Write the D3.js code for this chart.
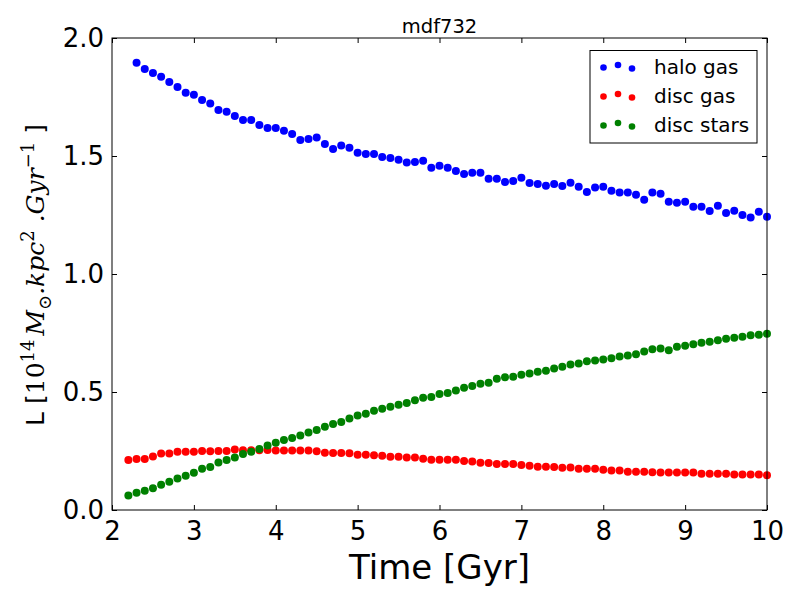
<!DOCTYPE html>
<html>
<head>
<meta charset="utf-8">
<script src="https://cdn.jsdelivr.net/npm/d3@7"></script>
<style>
  body { margin: 0; background: #fff; }
  text { font-family: "DejaVu Sans", sans-serif; }
</style>
</head>
<body>
<svg id="chart" width="800" height="600"></svg>
<script>
// time grid (Gyr)
const timesDisc = [2.2,2.3,2.4,2.5,2.6,2.7,2.8,2.9,3.0,3.1,3.2,3.3,3.4,3.5,3.6,3.7,3.8,3.9,4.0,4.1,4.2,4.3,4.4,4.5,4.6,
  4.7,4.8,4.9,5.0,5.1,5.2,5.3,5.4,5.5,5.6,5.7,5.8,5.9,6.0,6.1,6.2,6.3,6.4,6.5,6.6,6.7,6.8,6.9,7.0,7.1,7.2,7.3,7.4,
  7.5,7.6,7.7,7.8,7.9,8.0,8.1,8.2,8.3,8.4,8.5,8.6,8.7,8.8,8.9,9.0,9.1,9.2,9.3,9.4,9.5,9.6,9.7,9.8,9.9,10.0];
const timesHalo = timesDisc.slice(1);

const haloGas = [1.895,1.869,1.852,1.836,1.814,1.792,1.768,1.760,1.737,1.722,1.695,1.688,1.669,1.653,1.653,1.631,1.619,1.619,1.607,1.593,1.568,1.572,1.578,1.551,1.530,1.544,
  1.535,1.514,1.508,1.508,1.496,1.492,1.484,1.472,1.475,1.480,1.450,1.459,1.450,1.436,1.424,1.429,1.429,1.404,1.404,1.390,1.394,1.408,1.386,1.381,1.374,1.381,1.373,1.387,
  1.370,1.347,1.366,1.370,1.353,1.345,1.345,1.336,1.315,1.345,1.340,1.306,1.302,1.306,1.285,1.285,1.267,1.289,1.258,1.268,1.250,1.239,1.264,1.243];
const discGas = [0.212,0.216,0.216,0.227,0.239,0.239,0.247,0.247,0.247,0.250,0.249,0.250,0.250,0.256,0.253,0.253,0.253,0.254,0.252,0.252,0.252,0.252,0.252,0.249,0.243,
  0.242,0.241,0.240,0.234,0.234,0.232,0.230,0.226,0.226,0.222,0.222,0.217,0.213,0.213,0.213,0.213,0.208,0.205,0.200,0.199,0.195,0.195,0.195,0.191,0.188,0.183,0.183,0.182,
  0.179,0.180,0.175,0.175,0.175,0.171,0.167,0.167,0.162,0.162,0.162,0.160,0.159,0.159,0.159,0.159,0.159,0.154,0.154,0.154,0.154,0.150,0.150,0.150,0.150,0.147];
const discStars = [0.061,0.073,0.082,0.092,0.107,0.120,0.133,0.145,0.158,0.175,0.182,0.201,0.212,0.222,0.237,0.247,0.258,0.273,0.285,0.297,0.305,0.316,0.328,0.339,0.353,
  0.364,0.373,0.388,0.400,0.408,0.421,0.429,0.438,0.446,0.453,0.465,0.476,0.479,0.492,0.496,0.506,0.518,0.525,0.535,0.539,0.556,0.562,0.565,0.573,0.578,0.586,0.590,0.600,
  0.607,0.616,0.621,0.630,0.634,0.638,0.643,0.650,0.655,0.660,0.672,0.681,0.684,0.677,0.692,0.696,0.702,0.709,0.713,0.719,0.726,0.730,0.734,0.740,0.743,0.747];

const xTicks = [2,3,4,5,6,7,8,9,10];
const yTicks = [0.0,0.5,1.0,1.5,2.0];

const seriesNames = ["halo gas", "disc gas", "disc stars"];
const seriesColors = ["#0000ff", "#ff0000", "#008000"];

const svg = d3.select("#chart");
const plotL = 112, plotR = 767, plotT = 38, plotB = 510;

const x = d3.scaleLinear().domain([2, 10]).range([plotL, plotR]);
const y = d3.scaleLinear().domain([0, 2]).range([plotB, plotT]);

// title
svg.append("text")
  .attr("x", (plotL + plotR) / 2).attr("y", 33)
  .attr("text-anchor", "middle")
  .attr("font-size", "19.5px")
  .text("mdf732");

// points
const series = [
  { t: timesHalo, v: haloGas },
  { t: timesDisc, v: discGas },
  { t: timesDisc, v: discStars }
];
series.forEach((s, i) => {
  svg.append("g").selectAll("circle")
    .data(s.v)
    .join("circle")
    .attr("cx", (d, j) => x(s.t[j]))
    .attr("cy", d => y(d))
    .attr("r", 4)
    .attr("fill", seriesColors[i]);
});

// axes, ticks inward on all sides
const tickLen = 5;
svg.append("g").attr("transform", `translate(0,${plotB})`)
  .call(d3.axisBottom(x).tickValues(xTicks).tickSize(-tickLen).tickPadding(12).tickFormat(d3.format("d")))
  .call(g => g.select(".domain").remove())
  .call(g => g.selectAll("text").attr("font-size", "26px").attr("font-family", "DejaVu Sans").attr("fill", "#000"));
svg.append("g").attr("transform", `translate(0,${plotT})`)
  .call(d3.axisTop(x).tickValues(xTicks).tickSize(-tickLen).tickFormat(""))
  .call(g => g.select(".domain").remove());
svg.append("g").attr("transform", `translate(${plotL},0)`)
  .call(d3.axisLeft(y).tickValues(yTicks).tickSize(-tickLen).tickPadding(8).tickFormat(d3.format(".1f")))
  .call(g => g.select(".domain").remove())
  .call(g => g.selectAll("text").attr("font-size", "26px").attr("font-family", "DejaVu Sans").attr("fill", "#000"));
svg.append("g").attr("transform", `translate(${plotR},0)`)
  .call(d3.axisRight(y).tickValues(yTicks).tickSize(-tickLen).tickFormat(""))
  .call(g => g.select(".domain").remove());

svg.append("rect")
  .attr("x", plotL).attr("y", plotT)
  .attr("width", plotR - plotL).attr("height", plotB - plotT)
  .attr("fill", "none").attr("stroke", "#000").attr("stroke-width", 1);

// axis labels
svg.append("text")
  .attr("x", (plotL + plotR) / 2).attr("y", 579)
  .attr("text-anchor", "middle")
  .attr("font-size", "34px")
  .text("Time [Gyr]");

const yl = svg.append("text")
  .attr("transform", "translate(44,275) rotate(-90)")
  .attr("text-anchor", "middle")
  .attr("font-size", "25px");
yl.append("tspan").text("L [");
const serif = "DejaVu Serif";
yl.append("tspan").attr("font-family", serif).text("10");
yl.append("tspan").attr("font-family", serif).attr("font-size", "18px").attr("dy", -10).text("14");
yl.append("tspan").attr("font-family", serif).attr("font-style", "italic").attr("dy", 10).attr("dx", 4).text("M");
yl.append("tspan").attr("font-family", serif).attr("font-size", "18px").attr("dy", 7).text("⊙");
yl.append("tspan").attr("font-family", serif).attr("font-style", "italic").attr("dy", -7).text(".kpc");
yl.append("tspan").attr("font-family", serif).attr("font-size", "18px").attr("dy", -10).text("2");
yl.append("tspan").attr("font-family", serif).attr("font-style", "italic").attr("dy", 10).text(" .Gyr");
yl.append("tspan").attr("font-family", serif).attr("font-size", "18px").attr("dy", -10).text("−1");
yl.append("tspan").attr("dy", 10).text(" ]");

// legend
const legend = svg.append("g");
legend.append("rect")
  .attr("x", 590).attr("y", 50.5).attr("width", 167).attr("height", 92.5)
  .attr("fill", "#fff").attr("stroke", "#000").attr("stroke-width", 1);
const rowY = [67, 96, 125];
const dotX = [603.5, 618, 632];
const dotDy = [0.5, -2, 1.5];
seriesNames.forEach((name, i) => {
  dotX.forEach((dx, k) => {
    legend.append("circle")
      .attr("cx", dx).attr("cy", rowY[i] + dotDy[k])
      .attr("r", 3.3).attr("fill", seriesColors[i]);
  });
  legend.append("text")
    .attr("x", 654).attr("y", rowY[i] + 7)
    .attr("font-size", "20px")
    .text(name);
});
</script>
</body>
</html>
